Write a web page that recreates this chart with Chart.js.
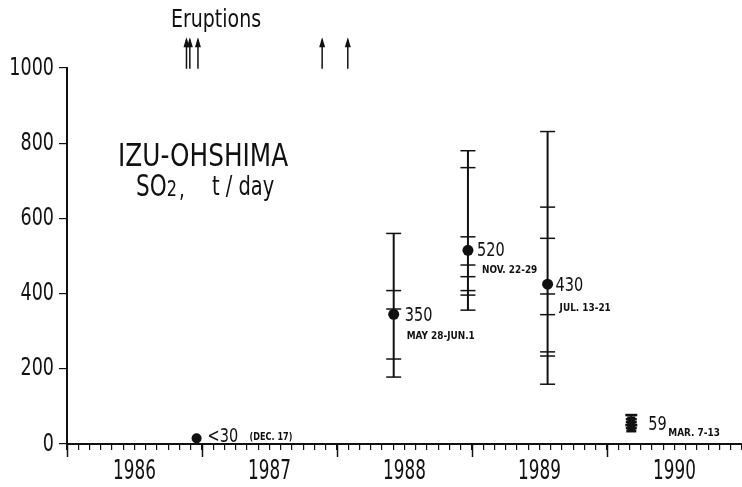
<!DOCTYPE html>
<html>
<head>
<meta charset="utf-8">
<script src="https://cdn.jsdelivr.net/npm/chart.js@4.4.0/dist/chart.umd.min.js"></script>
<style>
  body { margin: 0; background: #fff; }
  canvas { display: block; }
</style>
</head>
<body>
<canvas id="so2" width="742" height="487"></canvas>
<script>
// Izu-Oshima SO2 emission rates, 1986-1990
const sampleTimes = [1986.96, 1988.42, 1988.97, 1989.56, 1990.18];
const sampleMeans = [15, 345, 515, 425, 59];
const sampleLow = [null, 178, 356, 159, 32];
const sampleHigh = [null, 560, 780, 831, 77];
const dailyValues = [
  [],
  [560, 408, 359, 226, 178],
  [780, 735, 551, 476, 445, 408, 396, 356],
  [831, 630, 547, 399, 344, 245, 234, 159],
  [77, 70, 66, 62, 58, 54, 50, 46, 42, 38, 34]
];
const valueLabels = ['<30', '350', '520', '430', '59'];
const dateLabels = ['(DEC. 17)', 'MAY 28-JUN.1', 'NOV. 22-29', 'JUL. 13-21', 'MAR. 7-13'];
const eruptionTimes = [1986.885, 1986.91, 1986.97, 1987.89, 1988.08];
const yTicks = [0, 200, 400, 600, 800, 1000];
const yearLabels = ['1986', '1987', '1988', '1989', '1990'];

const FONT = '"Liberation Sans Narrow", "DejaVu Sans Condensed", "Arial Narrow", sans-serif';
const INK = '#111';
Chart.defaults.font.family = FONT;
Chart.defaults.color = INK;

// label offsets from each sample point, in px
const labelOffsets = [
  { v: [11, -1], d: [53, -1], dSize: 10 },
  { v: [11, 2], d: [13, 22], dSize: 11 },
  { v: [9, 1], d: [14, 20], dSize: 11 },
  { v: [8, 2], d: [12, 24], dSize: 11 },
  { v: [17, 3], d: [37, 11], dSize: 11 }
];
const blobRadii = [6, 4, 5.5, 3.5, 5.5, 4, 6, 4, 5.5, 4, 5];

// text squeezed horizontally to mimic the narrow lettering of the original
function narrowText(ctx, text, x, y, font, align, sx) {
  ctx.save();
  ctx.font = font;
  ctx.textAlign = align;
  ctx.translate(x, y);
  ctx.scale(sx, 1);
  ctx.fillText(text, 0, 0);
  const w = ctx.measureText(text).width * sx;
  ctx.restore();
  return w;
}

const datasets = [];

// vertical range lines
sampleTimes.forEach((t, i) => {
  if (sampleLow[i] === null) return;
  datasets.push({
    type: 'line',
    data: [{ x: t, y: sampleLow[i] }, { x: t, y: sampleHigh[i] }],
    borderColor: INK, borderWidth: 2, pointRadius: 0, showLine: true
  });
});

// daily measurement ticks
sampleTimes.forEach((t, i) => {
  if (!dailyValues[i].length) return;
  const last = i === dailyValues.length - 1;
  datasets.push({
    type: 'scatter',
    data: dailyValues[i].map(v => ({ x: t, y: v })),
    pointStyle: 'line', pointRadius: last ? blobRadii : 7.5,
    borderColor: INK, borderWidth: last ? 2.5 : 1.5, backgroundColor: INK
  });
});

// means
datasets.push({
  type: 'scatter',
  data: sampleTimes.map((t, i) => ({ x: t, y: sampleMeans[i] })),
  pointStyle: 'circle', pointRadius: [5, 5.5, 5.5, 5.5, 4],
  backgroundColor: INK, borderColor: INK, borderWidth: 0
});

// eruption arrow shafts above the plot
eruptionTimes.forEach(t => {
  datasets.push({
    type: 'line', clip: false,
    data: [{ x: t, y: 998 }, { x: t, y: 1075 }],
    borderColor: INK, borderWidth: 1.5, pointRadius: 0
  });
});

const annotations = {
  id: 'annotations',
  afterDraw(chart) {
    const { ctx, scales: { x, y } } = chart;
    ctx.save();
    ctx.fillStyle = INK;
    ctx.strokeStyle = INK;

    // long ticks at year boundaries
    ctx.lineWidth = 1.5;
    for (let yr = 1986; yr <= 1990; yr++) {
      const px = Math.round(x.getPixelForValue(yr)) + 0.5;
      ctx.beginPath();
      ctx.moveTo(px, y.bottom);
      ctx.lineTo(px, y.bottom + 13);
      ctx.stroke();
    }

    // arrow heads
    eruptionTimes.forEach(t => {
      const px = x.getPixelForValue(t);
      const tip = y.getPixelForValue(1082);
      ctx.beginPath();
      ctx.moveTo(px, tip);
      ctx.lineTo(px - 3, tip + 10);
      ctx.lineTo(px + 3, tip + 10);
      ctx.closePath();
      ctx.fill();
    });

    ctx.textBaseline = 'middle';

    // axis labels
    yTicks.forEach(v => narrowText(ctx, String(v), 54, y.getPixelForValue(v), '25px ' + FONT, 'right', 0.78));
    yearLabels.forEach((lab, i) => narrowText(ctx, lab, x.getPixelForValue(1986.5 + i), 472, '26px ' + FONT, 'center', 0.72));

    // point labels
    sampleTimes.forEach((t, i) => {
      const px = x.getPixelForValue(t);
      const py = y.getPixelForValue(sampleMeans[i]);
      const o = labelOffsets[i];
      narrowText(ctx, valueLabels[i], px + o.v[0], py + o.v[1], '19px ' + FONT, 'left', 0.85);
      narrowText(ctx, dateLabels[i], px + o.d[0], py + o.d[1], 'bold ' + o.dSize + 'px ' + FONT, 'left', 0.9);
    });

    narrowText(ctx, 'Eruptions', 216, 21, '24px ' + FONT, 'center', 0.88);
    narrowText(ctx, 'IZU-OHSHIMA', 118, 158, '32px ' + FONT, 'left', 0.86);
    let w = narrowText(ctx, 'SO', 136, 188, '30px ' + FONT, 'left', 0.8);
    w += narrowText(ctx, '2', 136 + w, 191, '21px ' + FONT, 'left', 0.85);
    narrowText(ctx, ',', 138 + w, 191, '24px ' + FONT, 'left', 0.85);
    narrowText(ctx, 't / day', 212, 188, '27px ' + FONT, 'left', 0.8);
    ctx.restore();
  }
};

new Chart(document.getElementById('so2'), {
  type: 'scatter',
  data: { datasets },
  options: {
    responsive: false,
    animation: false,
    layout: { autoPadding: false, padding: { top: 68, right: 0, left: 0, bottom: 0 } },
    plugins: { legend: { display: false }, tooltip: { enabled: false } },
    scales: {
      x: {
        type: 'linear', min: 1986, max: 1991,
        afterBuildTicks: axis => {
          const ticks = [];
          for (let m = 0; m <= 60; m++) ticks.push({ value: 1986 + m / 12 });
          axis.ticks = ticks;
        },
        afterFit: axis => { axis.height = 43; axis.paddingLeft = 0; axis.paddingRight = 0; },
        ticks: { display: false },
        grid: { drawOnChartArea: false, color: INK, lineWidth: 1.2, tickLength: 6 },
        border: { color: INK, width: 2 }
      },
      y: {
        min: 0, max: 1000,
        afterBuildTicks: axis => { axis.ticks = yTicks.map(v => ({ value: v })); },
        afterFit: axis => { axis.width = 67; axis.paddingTop = 0; axis.paddingBottom = 0; },
        ticks: { display: false },
        grid: { drawOnChartArea: false, color: INK, lineWidth: 1.2, tickLength: 8 },
        border: { color: INK, width: 2 }
      }
    }
  },
  plugins: [annotations]
});
</script>
</body>
</html>
